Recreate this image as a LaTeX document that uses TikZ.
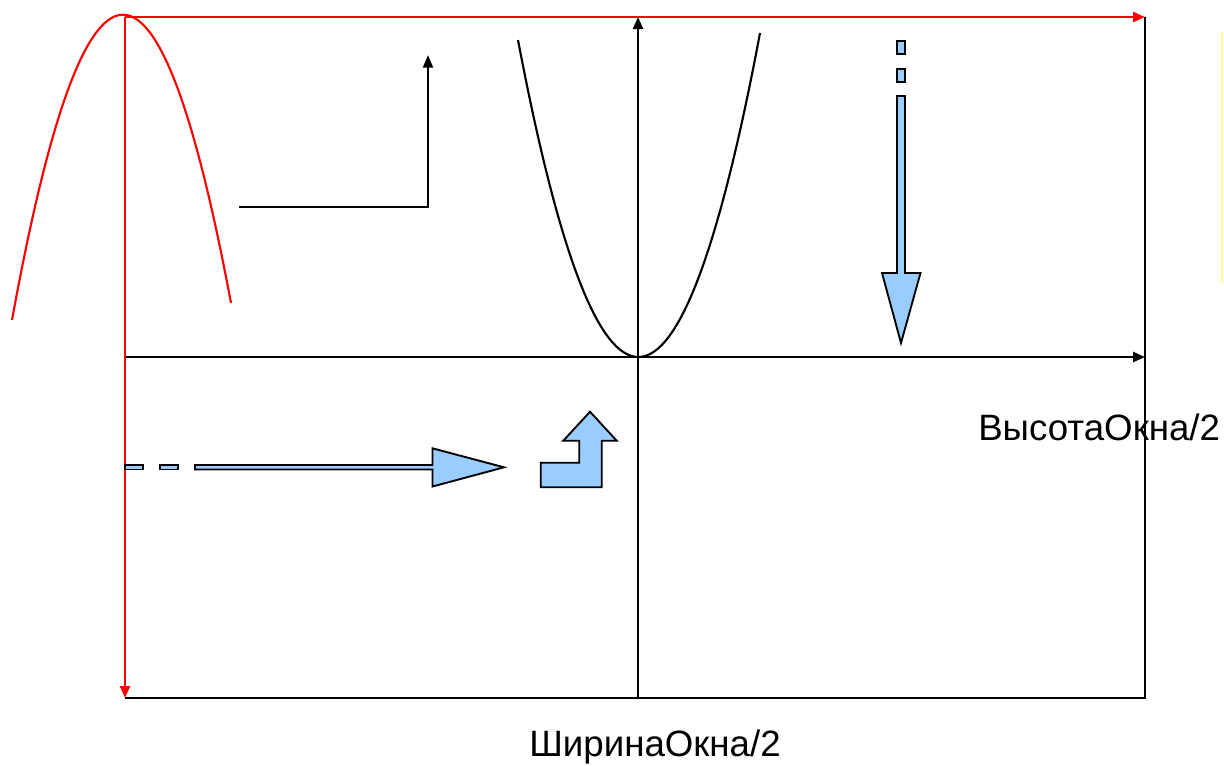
\documentclass[tikz,border=0pt]{standalone}
\usepackage{fontspec}
\setmainfont{Liberation Sans}
\usetikzlibrary{arrows.meta}
\definecolor{blockblue}{HTML}{99CCFF}
\definecolor{paleyellow}{HTML}{FFFF99}
\tikzset{
  axisline/.style={line width=1.8pt, draw=black},
  redline/.style={line width=1.8pt, draw=red},
  tipped/.style={-{Triangle[length=9pt,width=7.5pt]}},
  blockarrow/.style={draw=black, fill=blockblue, line width=1.4pt, line join=miter},
  label/.style={font=\fontsize{27.5}{31}\selectfont, inner sep=0pt, text depth=0pt, anchor=base west},
}
\begin{document}
\begin{tikzpicture}[x=0.75pt, y=-0.75pt]
\useasboundingbox (0,0) rectangle (1224,765);
% corners
\coordinate (TL) at (125,17);
\coordinate (TR) at (1145,17);
\coordinate (BL) at (125,698);
\coordinate (BR) at (1145,698);
\coordinate (AXL) at (125,357);
\coordinate (AXR) at (1145,357);
\coordinate (AYB) at (638,698);
\coordinate (AYT) at (638,17);
% frame
\draw[axisline] (TR) -- (BR) -- (BL);
\draw[axisline, tipped] (AXL) -- (AXR);
\draw[axisline, tipped] (AYB) -- (AYT);
% red arrows
\draw[redline, tipped] (TL) -- (TR);
\draw[redline, tipped] (TL) -- (BL);
% red parabola
\coordinate (RP0) at (12,320);
\coordinate (RPC1) at (85,-81.3);
\coordinate (RPC2) at (158,-87);
\coordinate (RP2) at (231,303);
\draw[redline, line width=1.6pt] (RP0) .. controls (RPC1) and (RPC2) .. (RP2);
% black parabola
\coordinate (BP0) at (518,40);
\coordinate (BPC1) at (598.7,465);
\coordinate (BPC2) at (679.3,462.7);
\coordinate (BP2) at (760,33);
\draw[line width=1.6pt] (BP0) .. controls (BPC1) and (BPC2) .. (BP2);
% corner arrow
\coordinate (C0) at (239,207);
\coordinate (C1) at (428,207);
\coordinate (C2) at (428,55);
\draw[line width=1.6pt, -{Triangle[length=9.5pt,width=7.5pt]}] (C0) -- (C1) -- (C2);
% vertical dashed block arrow
\draw[blockarrow] (897,41) rectangle (905,54);
\draw[blockarrow] (897,69) rectangle (905,82);
\draw[blockarrow] (897,96) -- (905,96) -- (905,273) -- (920.5,273) -- (901,343) -- (882,273) -- (897,273) -- cycle;
% horizontal dashed block arrow
\draw[blockarrow] (125,465) rectangle (143,469.5);
\draw[blockarrow] (160,465) rectangle (178,469.5);
\draw[blockarrow] (195,465) -- (432.5,465) -- (432.5,448.3) -- (504,467.3) -- (432.5,486.5) -- (432.5,469.5) -- (195,469.5) -- cycle;
% bent block arrow
\draw[blockarrow] (540.7,487.3) -- (540.7,462.7) -- (579.3,462.7) -- (579.3,440.7) -- (563.3,440.7) -- (590,411.7) -- (616.7,440.7) -- (601.7,440.7) -- (601.7,487.3) -- cycle;
% yellow line
\draw[paleyellow, line width=1.5pt] (1221.7,32) -- (1221.7,283);
% labels
\node[label] (hlabel) at (978,440) {ВысотаОкна/2};
\node[label] (wlabel) at (529,756) {ШиринаОкна/2};
\end{tikzpicture}
\end{document}
